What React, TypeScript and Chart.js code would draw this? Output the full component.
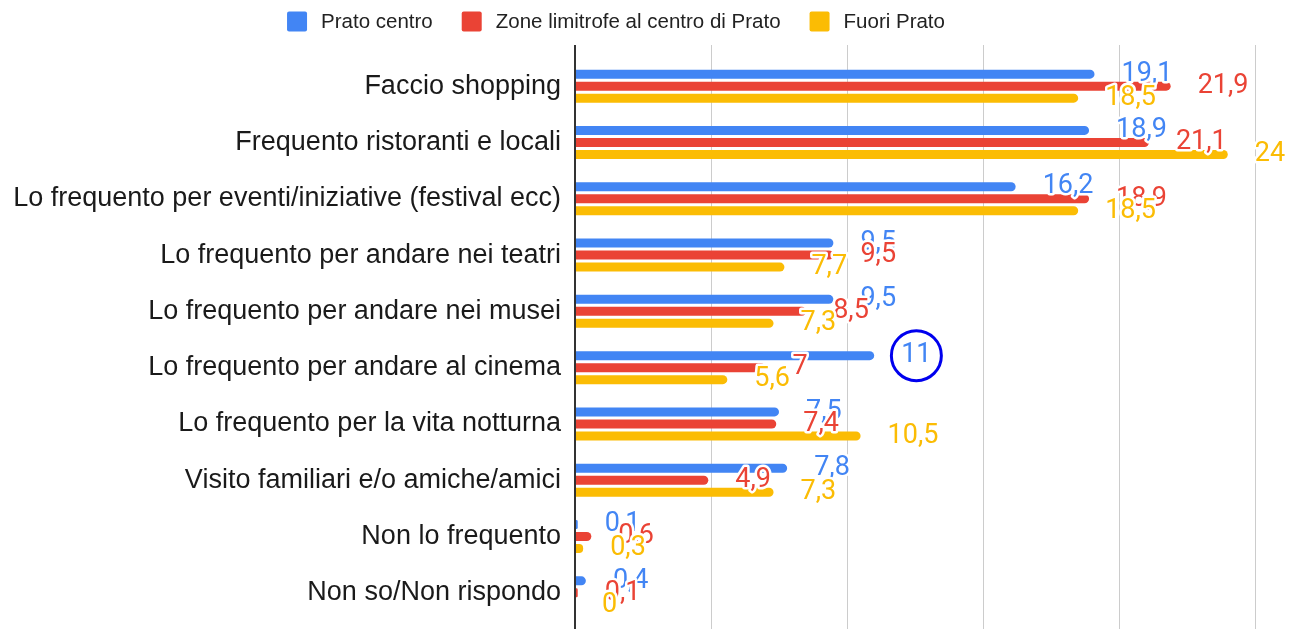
import { useEffect, useRef } from "react";
import { Chart, registerables } from "chart.js";

Chart.register(...registerables);

const categories = [
  "Faccio shopping",
  "Frequento ristoranti e locali",
  "Lo frequento per eventi/iniziative (festival ecc)",
  "Lo frequento per andare nei teatri",
  "Lo frequento per andare nei musei",
  "Lo frequento per andare al cinema",
  "Lo frequento per la vita notturna",
  "Visito familiari e/o amiche/amici",
  "Non lo frequento",
  "Non so/Non rispondo",
];
const pratoCentro = [19.1, 18.9, 16.2, 9.5, 9.5, 11, 7.5, 7.8, 0.1, 0.4];
const zoneLimitrofe = [21.9, 21.1, 18.9, 9.5, 8.5, 7, 7.4, 4.9, 0.6, 0.1];
const fuoriPrato = [18.5, 24, 18.5, 7.7, 7.3, 5.6, 10.5, 7.3, 0.3, 0];
const seriesNames = ["Prato centro", "Zone limitrofe al centro di Prato", "Fuori Prato"];
const seriesColors = ["#4285F4", "#EA4335", "#FBBC04"];
const gridValues = [5, 10, 15, 20, 25];
const axisMax = 25;
const highlight = { category: "Lo frequento per andare al cinema", series: 0 };

const W = 1297;
const H = 629;
const GRID_TOP = 45;
const LEGEND_CENTER_X = 616;
const LEGEND_Y = 21.5;
const LABEL_FONT = "27px Roboto, 'Noto Sans', sans-serif";
const SANS = "'Liberation Sans', Arial, sans-serif";

const fmt = (v: number) => String(v).replace(".", ",");

const gridPlugin = {
  id: "gridPlugin",
  beforeDatasetsDraw(chart: any) {
    const ctx = chart.ctx;
    const xs = chart.scales.x;
    ctx.save();
    ctx.strokeStyle = "#cccccc";
    ctx.lineWidth = 1;
    gridValues.forEach((v) => {
      const x = Math.round(xs.getPixelForValue(v)) + 0.5;
      ctx.beginPath();
      ctx.moveTo(x, GRID_TOP);
      ctx.lineTo(x, chart.height);
      ctx.stroke();
    });
    ctx.restore();
  },
  afterDatasetsDraw(chart: any) {
    const ctx = chart.ctx;
    const xs = chart.scales.x;
    ctx.save();
    ctx.strokeStyle = "#333333";
    ctx.lineWidth = 2;
    const x0 = Math.round(xs.getPixelForValue(0));
    ctx.beginPath();
    ctx.moveTo(x0, GRID_TOP);
    ctx.lineTo(x0, chart.height);
    ctx.stroke();

    // data labels
    ctx.font = LABEL_FONT;
    ctx.textAlign = "left";
    ctx.textBaseline = "middle";
    ctx.lineJoin = "round";
    ctx.lineWidth = 5;
    ctx.strokeStyle = "#ffffff";
    chart.data.datasets.forEach((ds: any, di: number) => {
      const meta = chart.getDatasetMeta(di);
      meta.data.forEach((el: any, i: number) => {
        const txt = fmt(ds.data[i]);
        const x = el.x + 27;
        const y = el.y;
        ctx.strokeText(txt, x, y);
        ctx.fillStyle = ds.backgroundColor;
        ctx.fillText(txt, x, y);
      });
    });

    // highlight circle
    const ci = chart.data.labels.indexOf(highlight.category);
    if (ci >= 0) {
      const el = chart.getDatasetMeta(highlight.series).data[ci];
      const ds = chart.data.datasets[highlight.series];
      const w = ctx.measureText(fmt(ds.data[ci])).width;
      const cx = el.x + 27 + w / 2;
      ctx.beginPath();
      ctx.strokeStyle = "#0000EE";
      ctx.lineWidth = 3;
      ctx.arc(cx, el.y, 25, 0, Math.PI * 2);
      ctx.stroke();
    }
    ctx.restore();
  },
  afterDraw(chart: any) {
    const ctx = chart.ctx;
    ctx.save();
    ctx.font = "20.5px " + SANS;
    const box = 20;
    const gapText = 14;
    const gapItem = 29;
    const items = chart.data.datasets.map((ds: any) => ({
      label: ds.label,
      color: ds.backgroundColor,
      w: ctx.measureText(ds.label).width,
    }));
    const total =
      items.reduce((s: number, it: any) => s + box + gapText + it.w, 0) +
      gapItem * (items.length - 1);
    let x = LEGEND_CENTER_X - total / 2;
    ctx.textAlign = "left";
    ctx.textBaseline = "middle";
    items.forEach((it: any) => {
      ctx.fillStyle = it.color;
      ctx.beginPath();
      ctx.roundRect(x, LEGEND_Y - box / 2, box, box, 2);
      ctx.fill();
      ctx.fillStyle = "#222222";
      ctx.fillText(it.label, x + box + gapText, LEGEND_Y + 1);
      x += box + gapText + it.w + gapItem;
    });
    ctx.restore();
  },
};

export default function App() {
  const ref = useRef<HTMLCanvasElement | null>(null);

  useEffect(() => {
    if (!ref.current) return;
    const series = [pratoCentro, zoneLimitrofe, fuoriPrato];
    const chart = new Chart(ref.current, {
      type: "bar",
      data: {
        labels: categories,
        datasets: series.map((d, i) => ({
          label: seriesNames[i],
          data: d,
          backgroundColor: seriesColors[i],
          borderRadius: 5,
          borderSkipped: "start",
          categoryPercentage: 0.64,
          barPercentage: 0.75,
        })),
      },
      options: {
        indexAxis: "y",
        animation: false,
        responsive: false,
        devicePixelRatio: 1,
        layout: { padding: { top: 58, bottom: 8, left: 0, right: 42 } },
        plugins: {
          legend: { display: false },
          tooltip: { enabled: false },
        },
        scales: {
          x: {
            display: false,
            min: 0,
            max: axisMax,
          },
          y: {
            grid: { display: false },
            border: { display: false },
            ticks: {
              padding: 6,
              color: "#1a1a1a",
              font: { family: SANS, size: 27 },
              autoSkip: false,
            },
            afterFit(scale: any) {
              scale.width = 575;
              scale.paddingTop = 0;
              scale.paddingBottom = 0;
            },
          },
        },
      },
      plugins: [gridPlugin],
    });
    return () => chart.destroy();
  }, []);

  return (
    <div style={{ position: "absolute", left: 0, top: 0, width: W, height: H, background: "#fff" }}>
      <canvas ref={ref} width={W} height={H} style={{ display: "block", width: W, height: H }} />
    </div>
  );
}
